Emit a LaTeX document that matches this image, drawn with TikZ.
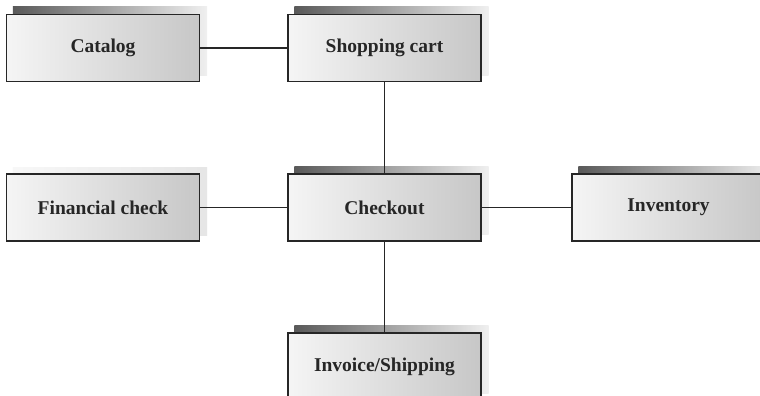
\documentclass[tikz,border=0pt]{standalone}
\usepackage{fontspec}
\setmainfont{Liberation Serif}
\usetikzlibrary{backgrounds,calc}
\begin{document}
\begin{tikzpicture}[x=1pt,y=-1pt,
  box/.style={draw=black!85, line width=1.4pt, left color=black!4, right color=black!22,
    minimum width=193pt, minimum height=67pt, inner sep=0pt,
    font=\fontsize{19.5}{23}\selectfont\bfseries, text=black!85},
  link/.style={draw=black!85, line width=1.3pt},
  shadowfill/.style={left color=black!65, right color=black!6}]
\useasboundingbox (0,0) rectangle (760,396);
\clip (0,0) rectangle (760,396);
\node[box] (cat) at (103,48) {Catalog};
\node[box] (cart) at (384.5,48) {Shopping cart};
\node[box] (fin) at (103,207.5) {Financial check};
\node[box] (chk) at (384.5,207.5) {Checkout};
\node[box] (inv) at (668.5,207.5) {Inventory};
\node[box] (ship) at (384.5,366.5) {Invoice/Shipping};
\begin{scope}[on background layer]
  \fill[white] (0,0) rectangle (760,396);
  \foreach \n in {cat,cart,chk,inv,ship}{
    \shade[shadowfill] ($(\n.north west)+(7,-7)$) rectangle ($(\n.south east)+(7,-7)$);
  }
  \shade[left color=black!3, right color=black!10] ($(fin.north west)+(7,-6)$) rectangle ($(fin.south east)+(7,-6)$);
\end{scope}
\draw[link] (cat.east) -- (cart.west);
\draw[link] (cart.south) -- (chk.north);
\draw[link] (fin.east) -- (chk.west);
\draw[link] (chk.east) -- (inv.west);
\draw[link] (chk.south) -- (ship.north);
\end{tikzpicture}
\end{document}
